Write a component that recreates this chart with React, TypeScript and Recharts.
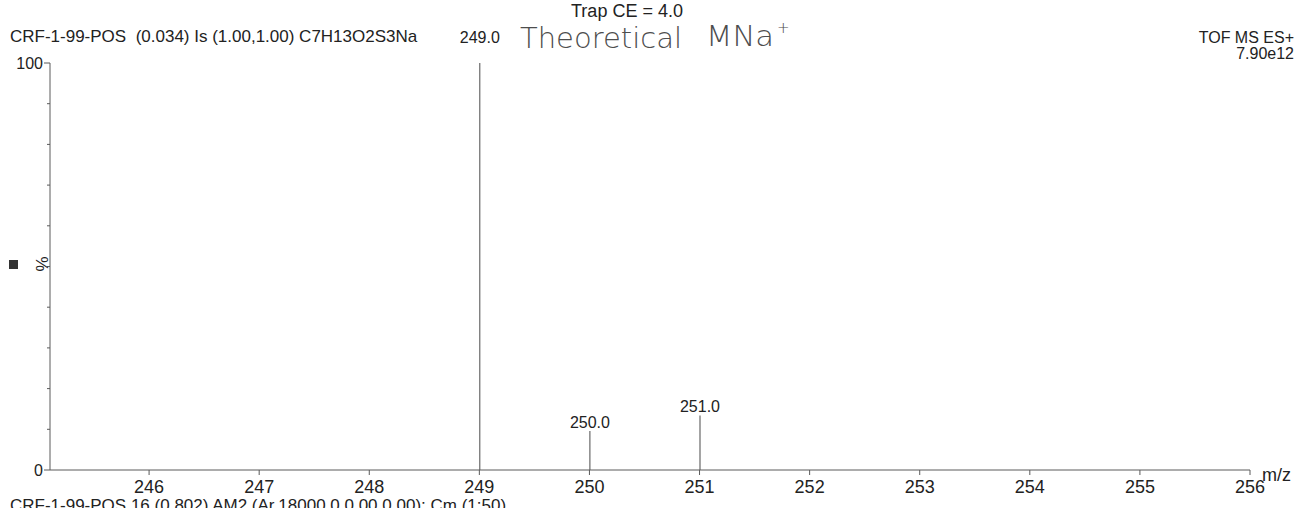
import { BarChart, Bar, XAxis, YAxis, LabelList } from "recharts";

// stick spectrum: m/z vs relative intensity (%)
const mz = [249.0, 250.0, 251.0];
const intensity = [100, 9.6, 13.4];
const xTicks = [246, 247, 248, 249, 250, 251, 252, 253, 254, 255, 256];
const yTicks = [0, 10, 20, 30, 40, 50, 60, 70, 80, 90, 100];
const yLabelled = [0, 100];

const FONT = "'Liberation Sans', Arial, sans-serif";
const INK = "#222";
const LINE = "#5a5a5a";
const PLOT_TOP = 63;

const peaks = mz.map((m, i) => ({ mz: m, value: intensity[i] }));

const YTick = (props: any) => {
  const { x, y, payload } = props;
  const major = yLabelled.includes(payload.value);
  return (
    <g>
      <line x1={x - (major ? 6 : 3)} x2={x} y1={y} y2={y} stroke={LINE} />
      {major && (
        <text
          x={x - 7}
          y={y + 6}
          textAnchor="end"
          fontSize={16}
          fontFamily={FONT}
          fill={INK}
        >
          {payload.value}
        </text>
      )}
    </g>
  );
};

const PeakLabel = (props: any) => {
  const { x, y, width, index } = props;
  const cx = x + width / 2;
  // the base peak's label goes above the plot area
  const ty = y <= PLOT_TOP + 1 ? 43 : y - 3;
  return (
    <text
      x={cx}
      y={ty}
      textAnchor="middle"
      fontSize={16}
      fontFamily={FONT}
      fill={INK}
    >
      {mz[index].toFixed(1)}
    </text>
  );
};

export default function App() {
  return (
    <div style={{ position: "relative", width: 1306, height: 508, background: "#fff" }}>
      <style>{`body{margin:0;background:#fff}`}</style>
      <BarChart
        width={1306}
        height={508}
        data={peaks}
        margin={{ top: PLOT_TOP, right: 56, bottom: 8, left: 10 }}
      >
        <XAxis
          dataKey="mz"
          type="number"
          domain={[245.1, 256]}
          ticks={xTicks}
          allowDataOverflow
          stroke={LINE}
          tickSize={5}
          tickMargin={5}
          height={30}
          tick={{ fontSize: 18, fontFamily: FONT, fill: INK }}
        />
        <YAxis
          type="number"
          domain={[0, 100]}
          ticks={yTicks}
          width={40}
          stroke={LINE}
          tickLine={false}
          tickSize={0}
          tickMargin={0}
          tick={<YTick />}
          interval={0}
        />
        <Bar dataKey="value" barSize={1} fill="#4a4a4a" isAnimationActive={false}>
          <LabelList dataKey="value" content={<PeakLabel />} />
        </Bar>
      </BarChart>
      <svg
        width={1306}
        height={508}
        style={{ position: "absolute", left: 0, top: 0, pointerEvents: "none" }}
      >
        <g fontFamily={FONT} fill={INK}>
          <text x={627} y={17} textAnchor="middle" fontSize={18}>
            Trap CE = 4.0
          </text>
          <text x={10} y={42} fontSize={17} style={{ whiteSpace: "pre" }}>
            {"CRF-1-99-POS  (0.034) Is (1.00,1.00) C7H13O2S3Na"}
          </text>
          <text x={1294} y={43} textAnchor="end" fontSize={16}>
            TOF MS ES+
          </text>
          <text x={1294} y={59} textAnchor="end" fontSize={16}>
            7.90e12
          </text>
          <text x={1262} y={481} fontSize={18}>
            m/z
          </text>
          <text x={10} y={511} fontSize={17}>
            CRF-1-99-POS 16 (0.802) AM2 (Ar,18000.0,0.00,0.00); Cm (1:50)
          </text>
          <rect x={9} y={260} width={9} height={9} fill="#333" />
          <text
            x={48}
            y={264}
            fontSize={17}
            textAnchor="middle"
            transform="rotate(-90 48 264)"
          >
            %
          </text>
        </g>
        <g fontFamily="'DejaVu Sans', sans-serif" fontWeight={200} fill="#4d4d4d">
          <text x={520} y={48} fontSize={29} textLength={162} lengthAdjust="spacingAndGlyphs">
            Theoretical
          </text>
          <text x={706} y={46} fontSize={29} textLength={68} lengthAdjust="spacingAndGlyphs">
            MNa
          </text>
          <text x={777} y={33} fontSize={15}>
            +
          </text>
        </g>
      </svg>
    </div>
  );
}
